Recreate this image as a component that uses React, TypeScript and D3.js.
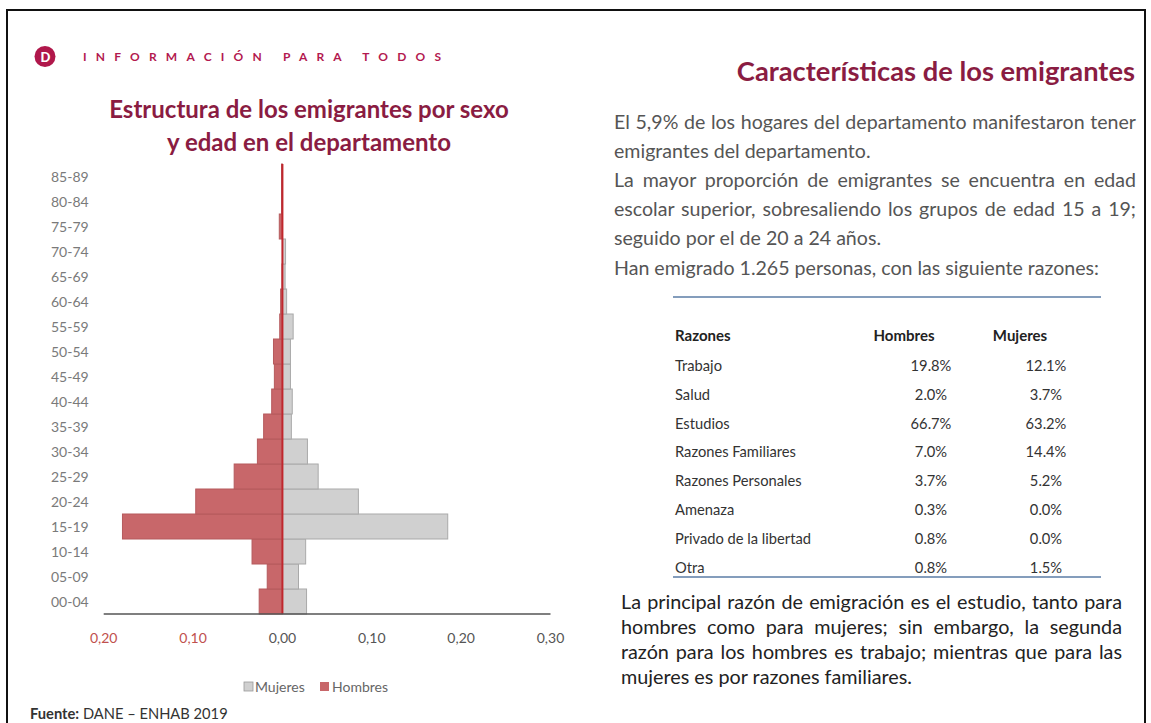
import React, { useEffect, useRef } from "react";
import * as d3 from "d3";

const ageGroups = ["00-04","05-09","10-14","15-19","20-24","25-29","30-34","35-39","40-44","45-49","50-54","55-59","60-64","65-69","70-74","75-79","80-84","85-89"];
const hombres = [0.026,0.017,0.034,0.179,0.097,0.054,0.028,0.021,0.012,0.009,0.010,0.003,0.002,0.0005,0,0.0035,0.001,0.001];
const mujeres = [0.027,0.018,0.026,0.185,0.085,0.040,0.028,0.010,0.011,0.009,0.009,0.012,0.0047,0.003,0.0035,0,0,0];
const xTicks = [-0.2,-0.1,0,0.1,0.2,0.3];

const razones = ["Trabajo","Salud","Estudios","Razones Familiares","Razones Personales","Amenaza","Privado de la libertad","Otra"];
const razonesHombres = ["19.8%","2.0%","66.7%","7.0%","3.7%","0.3%","0.8%","0.8%"];
const razonesMujeres = ["12.1%","3.7%","63.2%","14.4%","5.2%","0.0%","0.0%","1.5%"];

const parrafo1 = [
  { t: "El 5,9% de los hogares del departamento manifestaron tener", j: true },
  { t: "emigrantes del departamento.", j: false },
  { t: "La mayor proporción de emigrantes se encuentra en edad", j: true },
  { t: "escolar superior, sobresaliendo los grupos de edad 15 a 19;", j: true },
  { t: "seguido por el de 20 a 24 años.", j: false },
  { t: "Han emigrado 1.265 personas, con las siguiente razones:", j: false },
];
const parrafo2 = [
  { t: "La principal razón de emigración es el estudio, tanto para", j: true },
  { t: "hombres como para mujeres; sin embargo, la segunda", j: true },
  { t: "razón para los hombres es trabajo; mientras que para las", j: true },
  { t: "mujeres es por razones familiares.", j: false },
];

const FONT = "Lato, 'Open Sans', sans-serif";
const MAROON = "#8a1c42";
const RED = "#c8676a";
const GREY = "#d0d0d0";

export default function App() {
  const ref = useRef<SVGSVGElement>(null);

  const x = d3.scaleLinear().domain([-0.2, 0.3]).range([103.7, 550.5]);
  const y = d3.scaleBand<string>().domain([...ageGroups].reverse()).range([164, 614]).padding(0);
  const fmt = (v: number) => d3.format(".2f")(Math.abs(v)).replace(".", ",");

  useEffect(() => {
    if (!ref.current) return;
    d3.select(ref.current)
      .selectAll<SVGTextElement, unknown>("text[data-justify]")
      .each(function () {
        const el = this as SVGTextElement;
        const target = +(el.getAttribute("data-justify") || 0);
        el.style.wordSpacing = "0px";
        const natural = el.getComputedTextLength();
        const spaces = (el.textContent || "").split(" ").length - 1;
        if (spaces > 0) {
          el.style.wordSpacing = `${Math.max(0, (target - natural) / spaces)}px`;
        }
      });
  }, []);

  const rowY = (i: number) => 371 + i * 28.8;

  return (
    <svg ref={ref} width={1151} height={723} style={{ position: "absolute", left: 0, top: 0, background: "#fff" }} fontFamily={FONT}>
      <rect x={0} y={0} width={1151} height={723} fill="#fff" />
      {/* frame */}
      <path d="M7,723 V10 H1145 V723" fill="none" stroke="#111" strokeWidth={2} />

      {/* logo header */}
      <circle cx={45} cy={56.5} r={10.5} fill="#b0174b" />
      <text x={45.5} y={61.5} textAnchor="middle" fontSize={13} fontWeight={900} fill="#fff">D</text>
      <text x={83} y={61} fontSize={12} fontWeight={700} fill="#b3194f" textLength={358} lengthAdjust="spacing">INFORMACIÓN PARA TODOS</text>

      {/* left chart title */}
      <text x={309} y={118} textAnchor="middle" fontSize={24} fontWeight={700} fill={MAROON}>Estructura de los emigrantes por sexo</text>
      <text x={309} y={151} textAnchor="middle" fontSize={24} fontWeight={700} fill={MAROON}>y edad en el departamento</text>

      {/* bars */}
      <g>
        {ageGroups.map((a, i) => (
          <rect key={"h" + a} x={x(-hombres[i])} y={y(a)!} width={x(0) - x(-hombres[i])} height={y.bandwidth()}
            fill={RED} stroke="#b55a5d" strokeWidth={hombres[i] > 0 ? 1 : 0} />
        ))}
        {ageGroups.map((a, i) => (
          <rect key={"m" + a} x={x(0)} y={y(a)!} width={x(mujeres[i]) - x(0)} height={y.bandwidth()}
            fill={GREY} stroke="#a9a9a9" strokeWidth={mujeres[i] > 0 ? 1 : 0} />
        ))}
        <line x1={x(0)} x2={x(0)} y1={164} y2={614} stroke="#c0272d" strokeWidth={2} />
        <line x1={x(-0.2)} x2={x(0.3)} y1={614} y2={614} stroke="#555" strokeWidth={1.5} />
      </g>

      {/* y labels */}
      {ageGroups.map((a) => (
        <text key={"yl" + a} x={51} y={y(a)! + y.bandwidth() / 2 + 5} fontSize={14} fill="#7a7a7a">{a}</text>
      ))}

      {/* x labels */}
      {xTicks.map((t) => (
        <text key={"xt" + t} x={x(t)} y={643} textAnchor="middle" fontSize={14} fill={t < 0 ? "#c0504d" : "#555"}>{fmt(t)}</text>
      ))}

      {/* legend */}
      <rect x={244} y={682} width={9} height={9} fill={GREY} stroke="#999" strokeWidth={0.8} />
      <text x={255} y={692} fontSize={14} fill="#666">Mujeres</text>
      <rect x={320} y={682} width={9} height={9} fill={RED} />
      <text x={332} y={692} fontSize={14} fill="#666">Hombres</text>

      {/* source */}
      <text x={30} y={719} fontSize={14.7} fill="#333">
        <tspan fontWeight={700}>Fuente:</tspan> DANE – ENHAB 2019
      </text>

      {/* right title */}
      <text x={1135} y={81} textAnchor="end" fontSize={27.3} fontWeight={700} fill={MAROON}>Características de los emigrantes</text>

      {/* paragraph 1 */}
      {parrafo1.map((l, i) => (
        <text key={"p1" + i} x={614} y={128.5 + i * 29.2} fontSize={19.6} fill="#555"
          {...(l.j ? { "data-justify": 1136 - 614 } : {})}>{l.t}</text>
      ))}

      {/* table */}
      <line x1={673} x2={1101} y1={297} y2={297} stroke="#5b7da6" strokeWidth={1.6} />
      <text x={675} y={341} fontSize={15} fontWeight={700} fill="#222">Razones</text>
      <text x={904} y={341} textAnchor="middle" fontSize={15} fontWeight={700} fill="#222">Hombres</text>
      <text x={1020} y={341} textAnchor="middle" fontSize={15} fontWeight={700} fill="#222">Mujeres</text>
      {razones.map((r, i) => (
        <g key={"r" + r}>
          <text x={675} y={rowY(i)} fontSize={14.7} fill="#333">{r}</text>
          <text x={931} y={rowY(i)} textAnchor="middle" fontSize={14.7} fill="#333">{razonesHombres[i]}</text>
          <text x={1046} y={rowY(i)} textAnchor="middle" fontSize={14.7} fill="#333">{razonesMujeres[i]}</text>
        </g>
      ))}
      <line x1={673} x2={1101} y1={577} y2={577} stroke="#5b7da6" strokeWidth={1.6} />

      {/* paragraph 2 */}
      {parrafo2.map((l, i) => (
        <text key={"p2" + i} x={621} y={609 + i * 25} fontSize={19.8} fill="#222"
          {...(l.j ? { "data-justify": 1122 - 621 } : {})}>{l.t}</text>
      ))}
    </svg>
  );
}
